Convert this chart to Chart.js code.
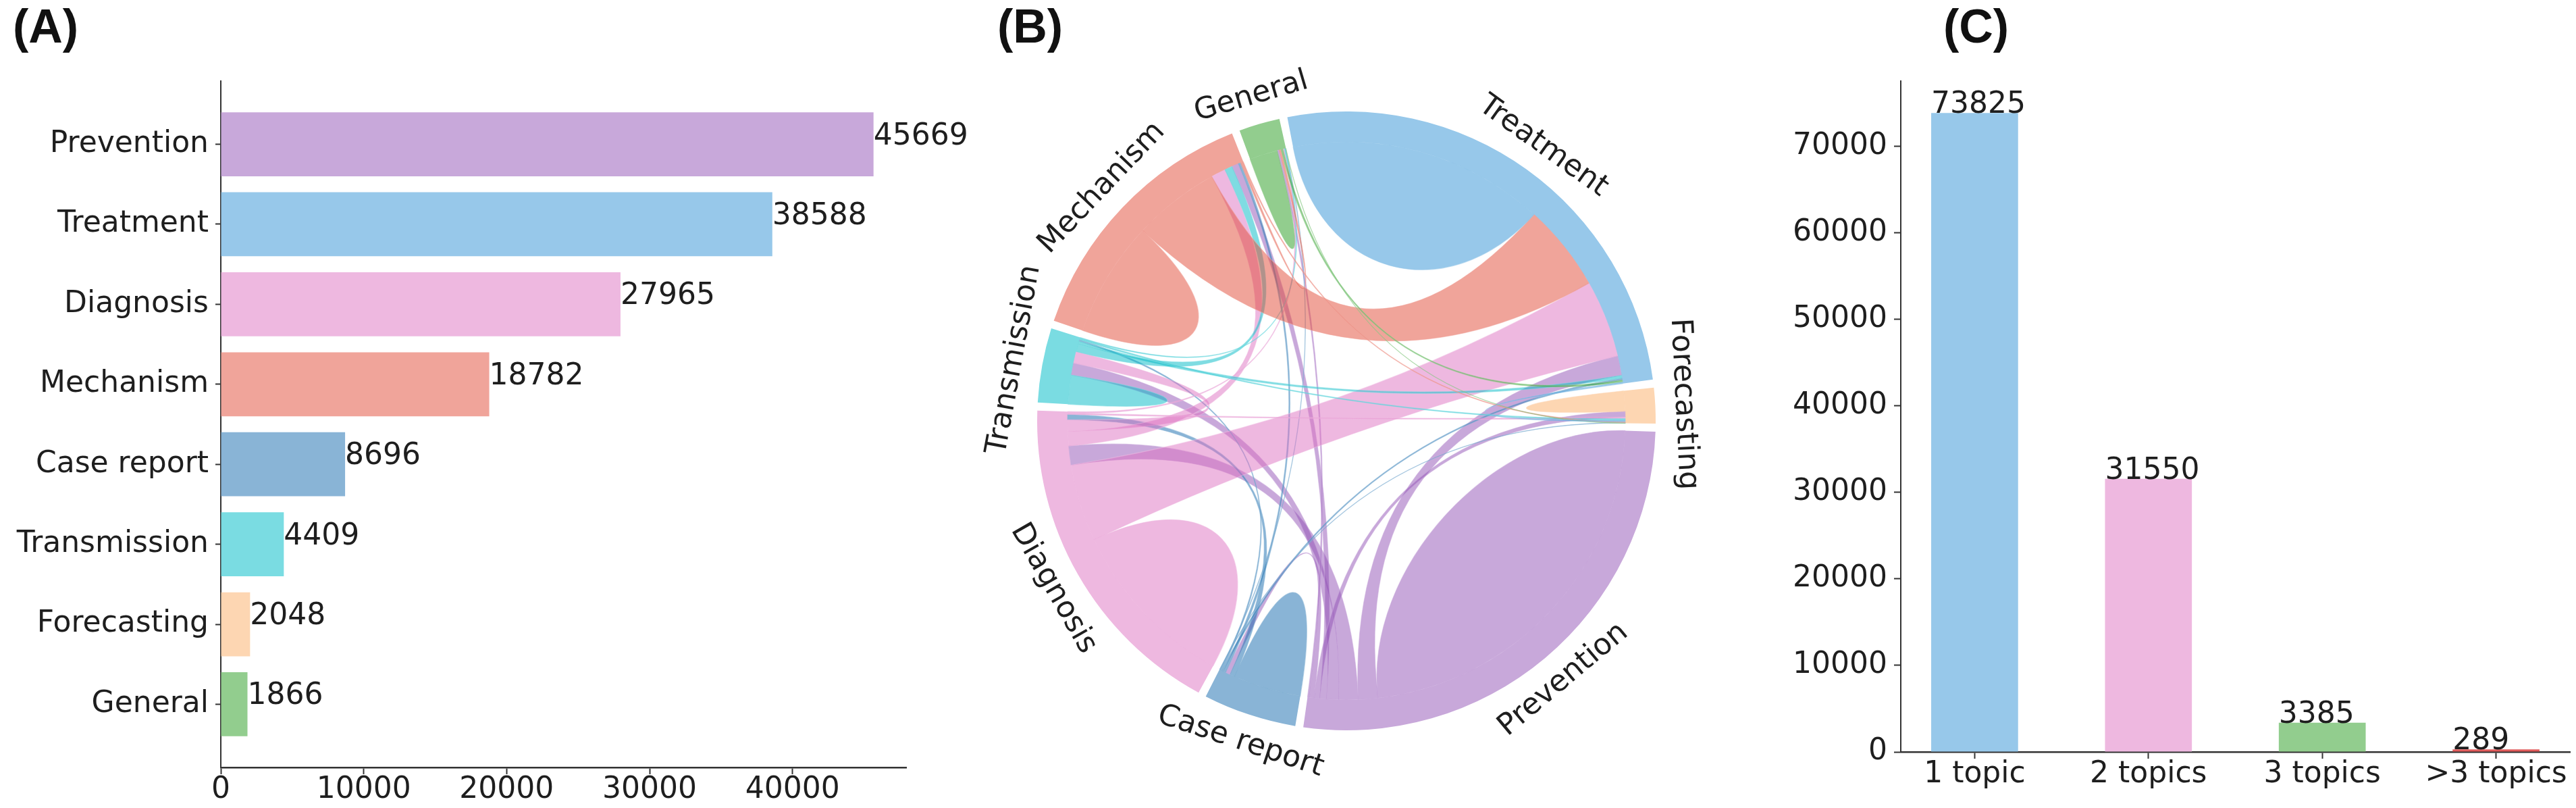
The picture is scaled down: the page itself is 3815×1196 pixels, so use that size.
<!DOCTYPE html>
<html>
<head>
<meta charset="utf-8">
<script src="https://cdn.jsdelivr.net/npm/chart.js@4.4.0/dist/chart.umd.min.js"></script>
<style>
html,body{margin:0;padding:0;background:#fff;}
body{width:3815px;height:1196px;position:relative;overflow:hidden;}
canvas{position:absolute;top:0;}
.lbl{position:absolute;top:4px;font-family:'Liberation Sans',Arial,sans-serif;font-weight:bold;font-size:70px;line-height:1;color:#111;}
</style>
</head>
<body>
<div class="lbl" style="left:19px">(A)</div>
<div class="lbl" style="left:1477px">(B)</div>
<div class="lbl" style="left:2878px">(C)</div>
<canvas id="ca" width="1440" height="1196" style="left:0px"></canvas>
<canvas id="cb" width="1130" height="1196" style="left:1430px"></canvas>
<canvas id="cc" width="1165" height="1196" style="left:2650px"></canvas>
<script>
// ---------- DATA ----------
// Panel A: number of articles per topic
const topicLabels = ['Prevention','Treatment','Diagnosis','Mechanism','Case report','Transmission','Forecasting','General'];
const topicCounts = [45669, 38588, 27965, 18782, 8696, 4409, 2048, 1866];
const topicColors = ['#c8a8da','#97c8ea','#eeb8e0','#f0a49a','#89b4d6','#7adce2','#fdd6b2','#92cd8e'];
const xTicksA = [0, 10000, 20000, 30000, 40000];

// Panel B: co-occurrence chord diagram
const chordLabels = ['Prevention','Case report','Diagnosis','Transmission','Mechanism','General','Treatment','Forecasting'];
const chordColors = ['#c8a8da','#89b4d6','#eeb8e0','#7adce2','#f0a49a','#92cd8e','#97c8ea','#fdd6b2'];
const chordMatrix = [
  // P      C      D      Tr     M      G      T      F
  [34020,   400,  1650,  1050,   590,   170,  1700,   500], // Prevention
  [  400,  5880,   450,   130,   210,    40,   170,    40], // Case report
  [ 1650,   450, 15120,  1000,  1260,   120,  6720,   130], // Diagnosis
  [ 1050,   130,  1000,  2520,   670,    80,   250,   130], // Transmission
  [  590,   210,  1260,   670, 10080,   170,  7560,    80], // Mechanism
  [  170,    40,   120,    80,   170,  2440,   170,    20], // General
  [ 1700,   170,  6720,   250,  7560,   170, 22260,   130], // Treatment
  [  500,    40,   130,   130,    80,    20,   130,  1760]  // Forecasting
];

// Panel C: number of topics per article
const topicNumLabels = ['1 topic','2 topics','3 topics','>3 topics'];
const paperCounts = [73825, 31550, 3385, 289];
const paperColors = ['#97c8ea','#eeb8e0','#92cd8e','#e05a5a'];
const yTicksC = [0, 10000, 20000, 30000, 40000, 50000, 60000, 70000];

// ---------- COMMON ----------
Chart.defaults.font.family = "'DejaVu Sans', sans-serif";
Chart.defaults.color = '#1e1e1e';
const FS = 44;
const AX = '#333';

function baseRGBA(hex, a) {
  const c = [1,3,5].map(k => parseInt(hex.slice(k, k+2), 16));
  const f = v => Math.max(0, Math.min(255, Math.round((v - 255 * (1 - a)) / a)));
  return `rgba(${f(c[0])},${f(c[1])},${f(c[2])},${a})`;
}
function hexRGBA(hex, a) {
  const c = [1,3,5].map(k => parseInt(hex.slice(k, k+2), 16));
  return `rgba(${c[0]},${c[1]},${c[2]},${a})`;
}
const gridOpts = len => ({ display: true, offset: false, drawOnChartArea: false, drawTicks: true, tickLength: len, tickColor: AX, tickWidth: 2 });

// ---------- PANEL A ----------
const barLabelsA = {
  id: 'barLabelsA',
  afterDatasetsDraw(chart) {
    const ctx = chart.ctx;
    const meta = chart.getDatasetMeta(0);
    ctx.save();
    ctx.font = `${FS}px 'DejaVu Sans'`;
    ctx.fillStyle = '#1e1e1e';
    ctx.textAlign = 'left';
    ctx.textBaseline = 'alphabetic';
    meta.data.forEach((bar, i) => ctx.fillText(String(topicCounts[i]), bar.x, bar.y));
    ctx.restore();
  }
};

new Chart(document.getElementById('ca'), {
  type: 'bar',
  data: {
    datasets: [{
      data: topicCounts.map((v, i) => ({ x: v, y: i })),
      backgroundColor: topicColors,
      borderWidth: 0,
      barPercentage: 0.8,
      categoryPercentage: 1
    }]
  },
  options: {
    indexAxis: 'y',
    responsive: false,
    animation: false,
    layout: { padding: { top: 120, right: 98, left: 0, bottom: 0 } },
    plugins: { legend: { display: false }, tooltip: { enabled: false } },
    scales: {
      x: {
        type: 'linear', bounds: 'data', offset: false, min: 0, max: topicCounts[0] * 1.05,
        afterBuildTicks: s => { s.ticks = xTicksA.map(v => ({ value: v })); },
        ticks: { font: { size: FS }, color: '#1e1e1e', padding: -3, maxRotation: 0, autoSkip: false, callback: v => String(v) },
        grid: gridOpts(10),
        border: { display: true, color: AX, width: 2.5 },
        afterFit: s => { s.height = 60; }
      },
      y: {
        type: 'linear', bounds: 'data', offset: false, reverse: true, min: -0.79, max: topicLabels.length - 0.21,
        afterBuildTicks: s => { s.ticks = topicLabels.map((_, i) => ({ value: i })); },
        ticks: { font: { size: FS }, color: '#1e1e1e', padding: 10, autoSkip: false, callback: v => topicLabels[v] },
        grid: gridOpts(8),
        border: { display: true, color: AX, width: 2 },
        afterFit: s => { s.width = 327; }
      }
    }
  },
  plugins: [barLabelsA]
});

// ---------- PANEL B ----------
const chordTotals = chordMatrix.map(r => r.reduce((a, b) => a + b, 0));
const chordGrand = chordTotals.reduce((a, b) => a + b, 0);
const GAP_DEG = 1.5;
const gapValue = chordGrand * GAP_DEG / (360 - GAP_DEG * chordLabels.length);
const ringData = [], ringColors = [];
chordTotals.forEach((t, i) => { ringData.push(t, gapValue); ringColors.push(chordColors[i], 'rgba(0,0,0,0)'); });

const chordPlugin = {
  id: 'chords',
  afterDatasetsDraw(chart) {
    const ctx = chart.ctx;
    const meta = chart.getDatasetMeta(0);
    const arcs = chordLabels.map((_, i) => meta.data[2 * i]);
    const cx = arcs[0].x, cy = arcs[0].y, r = arcs[0].innerRadius;
    const n = chordLabels.length;
    const ends = {};
    for (let i = 0; i < n; i++) {
      const arc = arcs[i];
      const per = (arc.endAngle - arc.startAngle) / chordTotals[i];
      const order = [...Array(n).keys()].sort((a, b) => chordMatrix[i][b] - chordMatrix[i][a]);
      let a = arc.startAngle;
      order.forEach(j => {
        const v = chordMatrix[i][j];
        if (v <= 0) return;
        ends[i + '-' + j] = [a, a + v * per];
        a += v * per;
      });
    }
    const P = ang => [cx + r * Math.cos(ang), cy + r * Math.sin(ang)];
    ctx.save();
    ctx.lineJoin = 'round';
    for (let i = 0; i < n; i++) {
      for (let j = i; j < n; j++) {
        if (chordMatrix[i][j] <= 0) continue;
        const col = chordColors[i];
        const [a0, a1] = ends[i + '-' + j];
        ctx.beginPath();
        if (i === j) {
          const k = 0.53;
          ctx.arc(cx, cy, r, a0, a1);
          const p0 = P(a0);
          ctx.bezierCurveTo(cx + r * k * Math.cos(a1), cy + r * k * Math.sin(a1),
                            cx + r * k * Math.cos(a0), cy + r * k * Math.sin(a0), p0[0], p0[1]);
        } else {
          const [b0, b1] = ends[j + '-' + i];
          ctx.arc(cx, cy, r, a0, a1);
          const pb = P(b0);
          ctx.quadraticCurveTo(cx, cy, pb[0], pb[1]);
          ctx.arc(cx, cy, r, b0, b1);
          const pa = P(a0);
          ctx.quadraticCurveTo(cx, cy, pa[0], pa[1]);
        }
        ctx.closePath();
        ctx.fillStyle = baseRGBA(col, 0.5);
        ctx.fill();
        ctx.strokeStyle = hexRGBA(col, 0.55);
        ctx.lineWidth = 1.2;
        ctx.stroke();
      }
    }
    ctx.restore();
  },
  afterDraw(chart) {
    const ctx = chart.ctx;
    const meta = chart.getDatasetMeta(0);
    ctx.save();
    ctx.font = `${FS}px 'DejaVu Sans'`;
    ctx.fillStyle = '#1e1e1e';
    ctx.textAlign = 'center';
    ctx.textBaseline = 'middle';
    chordLabels.forEach((name, i) => {
      const arc = meta.data[2 * i];
      const m = (arc.startAngle + arc.endAngle) / 2;
      const rl = arc.outerRadius + 42;
      const x = arc.x + rl * Math.cos(m), y = arc.y + rl * Math.sin(m);
      const rot = Math.sin(m) < 0 ? m + Math.PI / 2 : m - Math.PI / 2;
      ctx.save();
      ctx.translate(x, y);
      ctx.rotate(rot);
      ctx.fillText(name, 0, 0);
      ctx.restore();
    });
    ctx.restore();
  }
};

new Chart(document.getElementById('cb'), {
  type: 'doughnut',
  data: {
    labels: ringData.map((_, k) => (k % 2 === 0 ? chordLabels[k / 2] : '')),
    datasets: [{ data: ringData, backgroundColor: ringColors, borderWidth: 0, hoverOffset: 0 }]
  },
  options: {
    responsive: false,
    animation: false,
    rotation: 92,
    cutout: '90.17%',
    layout: { padding: { left: 106, right: 108, top: 165, bottom: 115 } },
    plugins: { legend: { display: false }, tooltip: { enabled: false } }
  },
  plugins: [chordPlugin]
});

// ---------- PANEL C ----------
const barLabelsC = {
  id: 'barLabelsC',
  afterDatasetsDraw(chart) {
    const ctx = chart.ctx;
    const meta = chart.getDatasetMeta(0);
    ctx.save();
    ctx.font = `${FS}px 'DejaVu Sans'`;
    ctx.fillStyle = '#1e1e1e';
    ctx.textAlign = 'left';
    ctx.textBaseline = 'alphabetic';
    meta.data.forEach((bar, i) => ctx.fillText(String(paperCounts[i]), bar.x - bar.width / 2, bar.y));
    ctx.restore();
  }
};

new Chart(document.getElementById('cc'), {
  type: 'bar',
  data: {
    datasets: [{
      data: paperCounts.map((v, i) => ({ x: i, y: v })),
      backgroundColor: paperColors,
      borderWidth: 0,
      barPercentage: 0.5,
      categoryPercentage: 1
    }]
  },
  options: {
    responsive: false,
    animation: false,
    layout: { padding: { top: 120, right: 9, left: 0, bottom: 0 } },
    plugins: { legend: { display: false }, tooltip: { enabled: false } },
    scales: {
      x: {
        type: 'linear', bounds: 'data', offset: false, min: -0.425, max: topicNumLabels.length - 0.575,
        afterBuildTicks: s => { s.ticks = topicNumLabels.map((_, i) => ({ value: i })); },
        ticks: { font: { size: FS }, color: '#1e1e1e', padding: -3, maxRotation: 0, autoSkip: false, callback: v => topicNumLabels[v] },
        grid: gridOpts(10),
        border: { display: true, color: AX, width: 2.5 },
        afterFit: s => { s.height = 83; }
      },
      y: {
        type: 'linear', bounds: 'data', offset: false, min: 0, max: paperCounts[0] * 1.05,
        afterBuildTicks: s => { s.ticks = yTicksC.map(v => ({ value: v })); },
        ticks: { font: { size: FS }, color: '#1e1e1e', padding: 10, autoSkip: false, callback: v => String(v) },
        grid: gridOpts(10),
        border: { display: true, color: AX, width: 2 },
        afterFit: s => { s.width = 165; }
      }
    }
  },
  plugins: [barLabelsC]
});
</script>
</body>
</html>
